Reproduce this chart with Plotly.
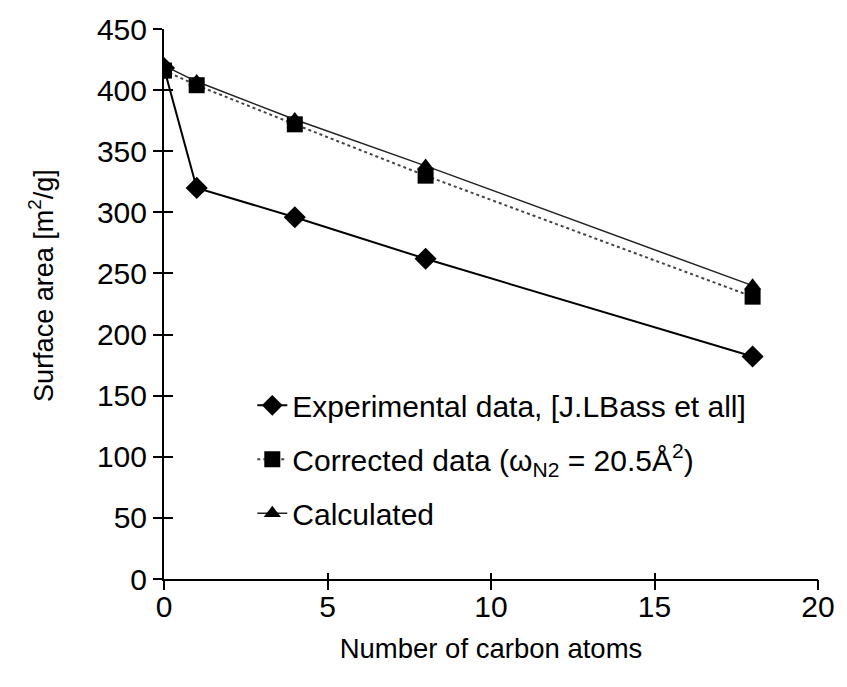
import plotly.graph_objects as go

carbon_atoms = [0, 1, 4, 8, 18]
experimental = [418, 320, 296, 262, 182]
corrected = [416, 404, 372, 330, 231]
calculated = [420, 407, 376, 338, 240]

x_ticks = [0, 5, 10, 15, 20]
y_ticks = [0, 50, 100, 150, 200, 250, 300, 350, 400, 450]

FONT = "Liberation Sans, Arial, sans-serif"

fig = go.Figure()
fig.add_trace(go.Scatter(
    x=carbon_atoms, y=experimental, mode="lines+markers",
    name="Experimental data, [J.LBass et all]", legendgroup="a",
    line=dict(color="black", width=2),
    marker=dict(symbol="diamond", size=17, color="black"),
))
fig.add_trace(go.Scatter(
    x=carbon_atoms, y=corrected, mode="lines+markers",
    name="Corrected data (ω<sub>N2</sub> = 20.5Å<sup>2</sup>)", legendgroup="b",
    line=dict(color="#444444", width=2, dash="dot"),
    marker=dict(symbol="square", size=16, color="black"),
))
fig.add_trace(go.Scatter(
    x=carbon_atoms, y=calculated, mode="lines+markers",
    name="Calculated", legendgroup="c",
    line=dict(color="#222222", width=1.5),
    marker=dict(symbol="triangle-up", size=15, color="black"),
))
# invisible traces to anchor tick-only axes
fig.add_trace(go.Scatter(x=[None], y=[None], xaxis="x2", yaxis="y2",
                         showlegend=False, hoverinfo="skip"))
fig.add_trace(go.Scatter(x=[None], y=[None], xaxis="x3", yaxis="y",
                         showlegend=False, hoverinfo="skip"))

axis_common = dict(showgrid=False, zeroline=False, color="black")
fig.update_layout(
    width=847, height=687,
    margin=dict(l=164, r=21, t=26, b=108),
    paper_bgcolor="white", plot_bgcolor="white",
    font=dict(family=FONT, size=28, color="black"),
    showlegend=True,
    legend=dict(x=0.135, y=0.363, xanchor="left", yanchor="top",
                bgcolor="rgba(0,0,0,0)", tracegroupgap=12,
                font=dict(family=FONT, size=30)),
    xaxis=dict(range=[0, 20], tickvals=x_ticks, ticks="",
               showline=True, linewidth=2, linecolor="black",
               ticklabelstandoff=0,
               title=dict(text="Number of carbon atoms", standoff=17,
                          font=dict(size=27.5)),
               tickfont=dict(size=30), **axis_common),
    yaxis=dict(range=[0, 450], tickvals=y_ticks, ticks="outside", ticklen=9,
               tickwidth=1.5, showline=True, linewidth=2, linecolor="black",
               tickfont=dict(size=30), **axis_common),
    xaxis2=dict(range=[0, 20], tickvals=x_ticks, ticks="outside", ticklen=10,
                tickwidth=1.5, showticklabels=False, overlaying="x",
                anchor="y2", side="bottom", showline=False, **axis_common),
    xaxis3=dict(range=[0, 20], tickvals=x_ticks, ticks="inside", ticklen=6,
                tickwidth=1.5, showticklabels=False, overlaying="x",
                anchor="y", side="bottom", showline=False, **axis_common),
    yaxis2=dict(range=[0, 450], tickvals=y_ticks, ticks="inside", ticklen=9,
                tickwidth=1.5, showticklabels=False, overlaying="y",
                anchor="x2", side="left", showline=False, **axis_common),
    annotations=[dict(
        text="Surface area [m<sup>2</sup>/g]", textangle=-90,
        xref="paper", yref="paper", x=-0.188, y=0.533,
        xanchor="center", yanchor="middle", showarrow=False,
        font=dict(family=FONT, size=27, color="black"),
    )],
)

fig.write_html("out.html")
